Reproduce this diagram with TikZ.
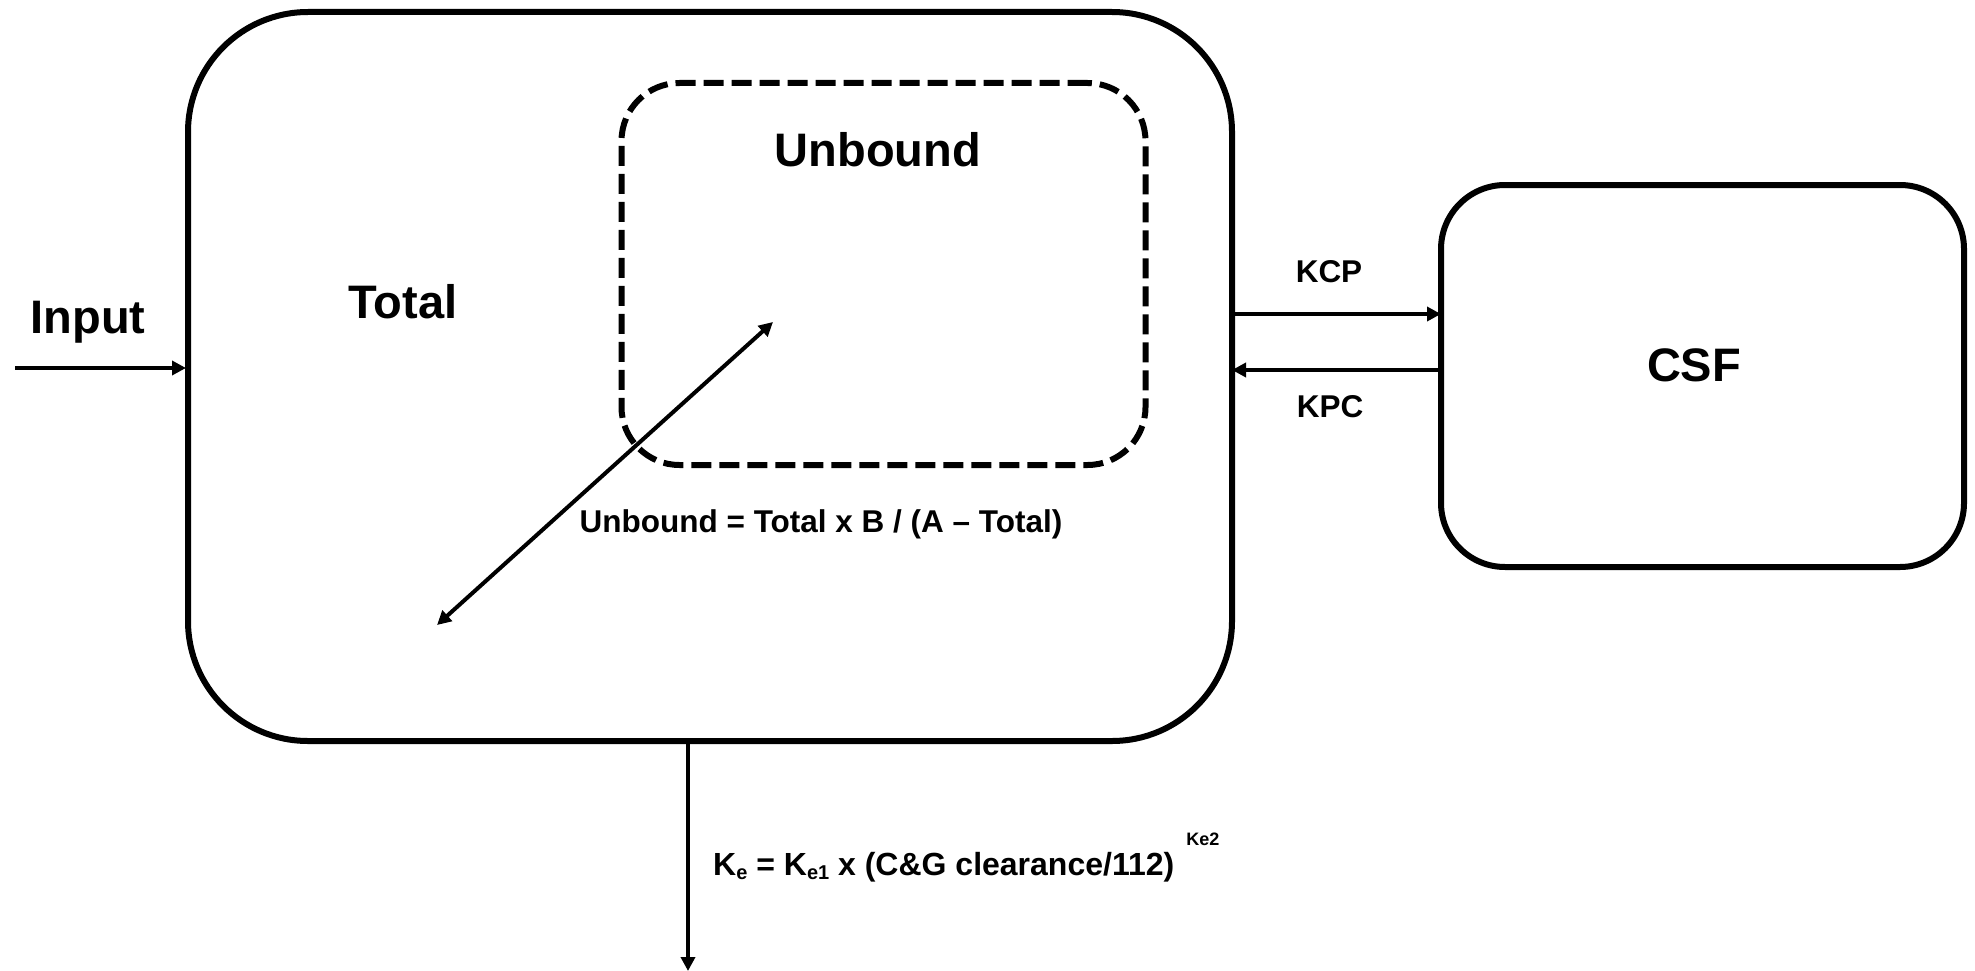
\documentclass[tikz,border=0pt]{standalone}
\usepackage{fontspec}
\setmainfont{Liberation Sans}
\usetikzlibrary{arrows.meta}
\tikzset{
  comp/.style={draw, line width=6pt, rectangle, inner sep=0pt},
  big/.style={font=\fontsize{47}{50}\selectfont\bfseries, inner sep=0pt},
  small/.style={font=\fontsize{31.5}{34}\selectfont\bfseries, inner sep=0pt},
  flow/.style={line width=4pt, -{Triangle[length=14pt,width=14pt]}},
  dflow/.style={line width=4pt, {Triangle[length=14pt,width=14pt]}-{Triangle[length=14pt,width=14pt]}}
}
\begin{document}
\begin{tikzpicture}[x=1pt,y=-1pt]
\useasboundingbox (0,0) rectangle (1975,971);
% compartments
\node[comp, rounded corners=120pt, minimum width=1044pt, minimum height=729pt] (total) at (710,376.5) {};
\node[comp, dash pattern=on 20pt off 8pt, rounded corners=58pt, minimum width=524pt, minimum height=382pt] (unbound) at (883.5,274) {};
\node[comp, rounded corners=64pt, minimum width=523pt, minimum height=382pt] (csf) at (1702.5,376) {};
% labels
\node[big] (inputlbl) at (88,322) {Input};
\node[big] (totallbl) at (403,302) {Total};
\node[big] (unboundlbl) at (878,150) {Unbound};
\node[big] (csflbl) at (1694,365) {CSF};
\node[small] (kcp) at (1329,272) {KCP};
\node[small] (kpc) at (1330,407) {KPC};
\node[small] (eq) at (821,524) {Unbound = Total x B / (A – Total)};
\node[font=\fontsize{32}{34}\selectfont\bfseries, inner sep=0pt, anchor=base west] (ke) at (713,875) {K\raisebox{-4pt}{\fontsize{20}{22}\selectfont e} = K\raisebox{-4pt}{\fontsize{20}{22}\selectfont e1} x (C\&G clearance/112)\hspace{12pt}\raisebox{30pt}{\fontsize{18}{20}\selectfont Ke2}};
% connectors
\coordinate (inStart) at (15,368);
\coordinate (inEnd) at (186,368);
\draw[flow] (inStart) -- (inEnd);
\coordinate (kcpA) at (1232,314);
\coordinate (kcpB) at (1441,314);
\draw[flow] (kcpA) -- (kcpB);
\coordinate (kpcA) at (1441,370);
\coordinate (kpcB) at (1232,370);
\draw[flow] (kpcA) -- (kpcB);
\coordinate (outStart) at (688,741);
\coordinate (outEnd) at (688,971);
\draw[flow] (outStart) -- (outEnd);
\coordinate (dA) at (437,625);
\coordinate (dB) at (773,322);
\draw[dflow] (dA) -- (dB);
\end{tikzpicture}
\end{document}
